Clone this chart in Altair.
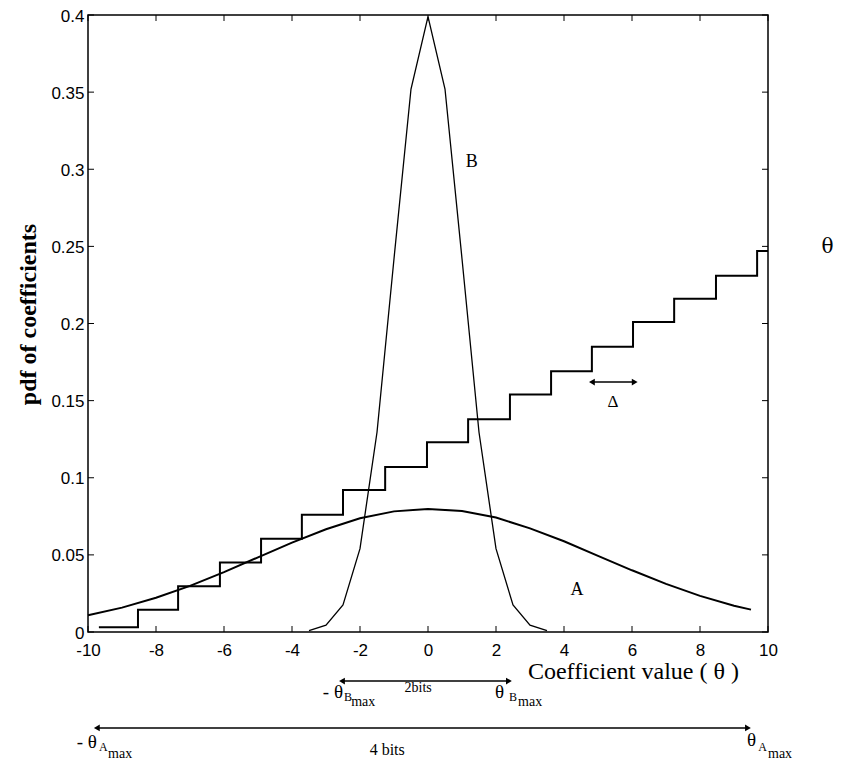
import altair as alt
import pandas as pd

# ---- data ----
x_ticks = [-10, -8, -6, -4, -2, 0, 2, 4, 6, 8, 10]
y_ticks = [0, 0.05, 0.1, 0.15, 0.2, 0.25, 0.3, 0.35, 0.4]

# quantizer staircase (step edges, levels)
stair_x = [-9.68, -8.53, -7.35, -6.12, -4.91, -3.71, -2.50, -1.26, -0.03, 1.18,
           2.41, 3.62, 4.82, 6.03, 7.24, 8.47, 9.68, 10.0]
stair_y = [0.003, 0.0145, 0.0296, 0.045, 0.0605, 0.076, 0.092, 0.107, 0.123, 0.138,
           0.154, 0.169, 0.185, 0.201, 0.216, 0.231, 0.247, 0.247]

# curve A (wide pdf)
a_x = [-10, -9, -8, -7, -6, -5, -4, -3, -2, -1, 0, 1, 2, 3, 4, 5, 6, 7, 8, 9, 9.5]
a_y = [0.0108, 0.0158, 0.0222, 0.0299, 0.0388, 0.0484, 0.0579, 0.0666, 0.0737, 0.0782,
       0.0798, 0.0785, 0.0742, 0.0672, 0.0588, 0.0494, 0.0400, 0.0312, 0.0234, 0.0170, 0.0145]

# curve B (narrow pdf)
b_x = [-3.5, -3, -2.5, -2, -1.5, -1, -0.5, 0, 0.5, 1, 1.5, 2, 2.5, 3, 3.5]
b_y = [0.0009, 0.0044, 0.0175, 0.054, 0.1295, 0.242, 0.352, 0.399, 0.352, 0.242,
       0.1295, 0.054, 0.0175, 0.0044, 0.0009]

# double arrows
arrow_x1 = [4.82, -2.53, -9.74]
arrow_x2 = [6.08, 2.38, 9.41]
arrow_y = [0.162, -0.0318, -0.0622]

# annotation texts
curve_labels = ["B", "A"]
curve_lab_x = [1.29, 4.38]
curve_lab_y = [0.305, 0.027]

xs = alt.Scale(domain=[-10, 10], nice=False, zero=False)
ys = alt.Scale(domain=[0, 0.4], nice=False, zero=False)

SERIF = "Liberation Serif"
SANS = "Liberation Sans"

x_axis = alt.Axis(values=x_ticks, labelExpr="toString(datum.value)", ticks=False, tickSize=0,
                  domain=False, grid=False, labelFont=SANS, labelFontSize=17,
                  labelColor="black", labelPadding=10, labelFlush=False, title=None)
y_axis = alt.Axis(values=y_ticks, format="~g", ticks=False, tickSize=0, domain=False,
                  grid=False, labelFont=SANS, labelFontSize=17, labelColor="black",
                  labelPadding=4, labelFlush=False, labelOffset=1,
                  title="pdf of coefficients",
                  titleFont=SERIF, titleFontSize=24, titleFontWeight="bold",
                  titleColor="black", titleAngle=270, titleX=-60, titleY=299,
                  titleAlign="center", titleBaseline="middle")


def X(field):
    return alt.X(field, scale=xs, axis=x_axis)


def Y(field):
    return alt.Y(field, scale=ys, axis=y_axis)


stair_df = pd.DataFrame({"x": stair_x, "y": stair_y})
a_df = pd.DataFrame({"x": a_x, "y": a_y})
b_df = pd.DataFrame({"x": b_x, "y": b_y})

stair = alt.Chart(stair_df).mark_line(interpolate="step-after", color="black",
                                       strokeWidth=2).encode(x=X("x:Q"), y=Y("y:Q"))

curve_a = alt.Chart(a_df).mark_line(color="black", strokeWidth=2).encode(
    x=X("x:Q"), y=Y("y:Q"))

curve_b = alt.Chart(b_df).mark_line(color="black", strokeWidth=1.3).encode(
    x=X("x:Q"), y=Y("y:Q"))

# inward ticks on all four sides
xt_df = pd.DataFrame({"x": x_ticks})
yt_df = pd.DataFrame({"y": y_ticks})
tick_style = dict(color="black", strokeWidth=1)
ticks_bottom = alt.Chart(xt_df).mark_rule(**tick_style).encode(
    x=X("x:Q"), y=alt.value(617), y2=alt.value(611))
ticks_top = alt.Chart(xt_df).mark_rule(**tick_style).encode(
    x=X("x:Q"), y=alt.value(0), y2=alt.value(6))
ticks_left = alt.Chart(yt_df).mark_rule(**tick_style).encode(
    y=Y("y:Q"), x=alt.value(0), x2=alt.value(6))
ticks_right = alt.Chart(yt_df).mark_rule(**tick_style).encode(
    y=Y("y:Q"), x=alt.value(680), x2=alt.value(674))

# arrows
arr_df = pd.DataFrame({"x1": arrow_x1, "x2": arrow_x2, "y": arrow_y})
arr_line = alt.Chart(arr_df).mark_rule(color="black", strokeWidth=1.5).encode(
    x=X("x1:Q"), x2="x2:Q", y=Y("y:Q"))
arr_left = alt.Chart(arr_df).mark_point(shape="triangle-left", filled=True, color="black",
                                        size=45, opacity=1).encode(x=X("x1:Q"), y=Y("y:Q"))
arr_right = alt.Chart(arr_df).mark_point(shape="triangle-right", filled=True, color="black",
                                         size=45, opacity=1).encode(x=X("x2:Q"), y=Y("y:Q"))


def texts(t, x, y, size, align="center", baseline="middle", font=SERIF, weight="normal"):
    df = pd.DataFrame({"t": t, "x": x, "y": y})
    return alt.Chart(df).mark_text(font=font, fontSize=size, align=align, baseline=baseline,
                                   fontWeight=weight, color="black").encode(
        x=X("x:Q"), y=Y("y:Q"), text="t:N")


lab_curves = texts(curve_labels, curve_lab_x, curve_lab_y, 18)
lab_delta = texts(["Δ"], [5.44], [0.149], 17)
lab_theta = texts(["θ"], [11.75], [0.2496], 20, font="DejaVu Serif")
lab_xtitle = texts(["Coefficient value ( θ )"], [2.94], [-0.0305], 24, align="left",
                   baseline="alphabetic")
lab_theta_r = texts(["- θ", "- θ"], [-2.5, -9.74], [-0.0428, -0.0752], 19, align="right",
                    baseline="alphabetic")
lab_theta_l = texts(["θ", "θ"], [1.97, 9.38], [-0.0428, -0.0740], 19, align="left",
                    baseline="alphabetic")
lab_sub = texts(["B", "B", "A", "A"], [-2.47, 2.38, -9.68, 9.71],
                [-0.0447, -0.0447, -0.0772, -0.0772], 12, align="left", baseline="alphabetic")
lab_max = texts(["max", "max", "max", "max"], [-2.26, 2.65, -9.41, 10.0],
                [-0.048, -0.048, -0.0815, -0.0815], 14, align="left", baseline="alphabetic")
lab_2bits = texts(["2bits"], [-0.29], [-0.0389], 14, baseline="alphabetic")
lab_4bits = texts(["4 bits"], [-1.2], [-0.0795], 16, baseline="alphabetic")

chart = alt.layer(
    stair, curve_a, curve_b, ticks_bottom, ticks_top, ticks_left, ticks_right,
    arr_line, arr_left, arr_right, lab_curves, lab_delta, lab_theta, lab_xtitle,
    lab_theta_r, lab_theta_l, lab_sub, lab_max, lab_2bits, lab_4bits
).properties(
    width=680, height=617,
    autosize=alt.AutoSizeParams(type="none"),
    padding={"left": 80, "top": 7, "right": 67, "bottom": 129},
    background="white"
).configure_view(stroke="black", strokeWidth=1.5)

chart.save("out.html", embed_options={"renderer": "svg", "actions": False})
